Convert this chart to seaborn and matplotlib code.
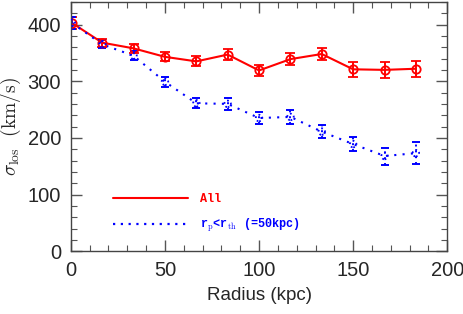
import numpy as np
import pandas as pd
import matplotlib
matplotlib.use("Agg")
import matplotlib.pyplot as plt
import seaborn as sns
from matplotlib.lines import Line2D
from matplotlib.ticker import MultipleLocator

# ── Data ─────────────────────────────────────────────────────────────────────
radius = [0.5, 16.7, 33.3, 50.0, 66.7, 83.3, 100.0, 116.7, 133.3, 150.0, 166.7, 183.3]

sigma_all = [403, 368, 358, 343, 335, 347, 319, 339, 348, 321, 320, 322]
err_all   = [10, 7, 8, 8, 9, 9, 10, 11, 11, 13, 14, 14]

sigma_cut = [403, 365, 345, 299, 261, 260, 235, 237, 211, 189, 168, 173]
err_cut   = [10, 7, 8, 9, 9, 10, 10, 12, 12, 13, 15, 19]

label_all = "All"
label_cut = r"r$_{\rm p}$<r$_{\rm th}$ (=50kpc)"

# ── Plot ─────────────────────────────────────────────────────────────────────
sns.set_style("ticks")
plt.rcParams["font.family"] = ["Liberation Sans", "DejaVu Sans"]
plt.rcParams["mathtext.fontset"] = "cm"

df = pd.DataFrame({
    "radius": radius * 2,
    "sigma":  sigma_all + sigma_cut,
    "sample": [label_all] * len(radius) + [label_cut] * len(radius),
})

fig, ax = plt.subplots(figsize=(4.63, 3.14), dpi=100)
fig.subplots_adjust(left=0.153, right=0.966, top=0.994, bottom=0.2)

palette = {label_all: "#ff0000", label_cut: "#0000ff"}
sns.lineplot(data=df, x="radius", y="sigma", hue="sample", style="sample",
             palette=palette, dashes={label_all: "", label_cut: (1, 3)},
             lw=1.5, legend=False, ax=ax)

ax.errorbar(radius, sigma_all, yerr=err_all, fmt="o", mfc="none", mec="#ff0000",
            ecolor="#ff0000", ms=6, mew=1.3, elinewidth=1.4, capsize=3.5, capthick=1.4)
eb = ax.errorbar(radius, sigma_cut, yerr=err_cut, fmt="none",
                 ecolor="#0000ff", elinewidth=1.4, capsize=3, capthick=1.4)
for coll in eb[2]:
    coll.set_linestyle((0, (1, 2)))
ax.scatter(radius, sigma_cut, s=22, facecolors="none", edgecolors="#0000ff",
           linewidths=1.3, linestyles=(0, (1, 1.5)), zorder=3)

ax.set_xlim(0, 200)
ax.set_ylim(0, 440)
ax.xaxis.set_major_locator(MultipleLocator(50))
ax.xaxis.set_minor_locator(MultipleLocator(10))
ax.yaxis.set_major_locator(MultipleLocator(100))
ax.yaxis.set_minor_locator(MultipleLocator(20))
ax.tick_params(which="both", direction="in", top=True, right=True, color="#555555")
ax.tick_params(which="major", length=8, width=1.0, labelsize=14.5, pad=7)
ax.tick_params(which="minor", length=4, width=0.8)
for sp in ax.spines.values():
    sp.set_color("#444444")
    sp.set_linewidth(1.0)

ax.set_xlabel("Radius (kpc)", fontsize=13.5, labelpad=5)
ax.set_ylabel(r"$\sigma_{\rm los}\ \ ({\rm km/s})$", fontsize=14, labelpad=3)

handles = [Line2D([0], [0], color="#ff0000", lw=1.5),
           Line2D([0], [0], color="#0000ff", lw=1.6, ls=(0, (1, 2.5)))]
leg = ax.legend(handles, [label_all, label_cut], loc="lower left",
                bbox_to_anchor=(0.085, 0.025), frameon=False, handlelength=6.3,
                handletextpad=1.0, labelspacing=1.0,
                prop={"family": "Liberation Mono", "weight": "bold", "size": 8.5})
for txt, c in zip(leg.get_texts(), ["#ff0000", "#0000ff"]):
    txt.set_color(c)

fig.savefig("out.png", dpi=100)
